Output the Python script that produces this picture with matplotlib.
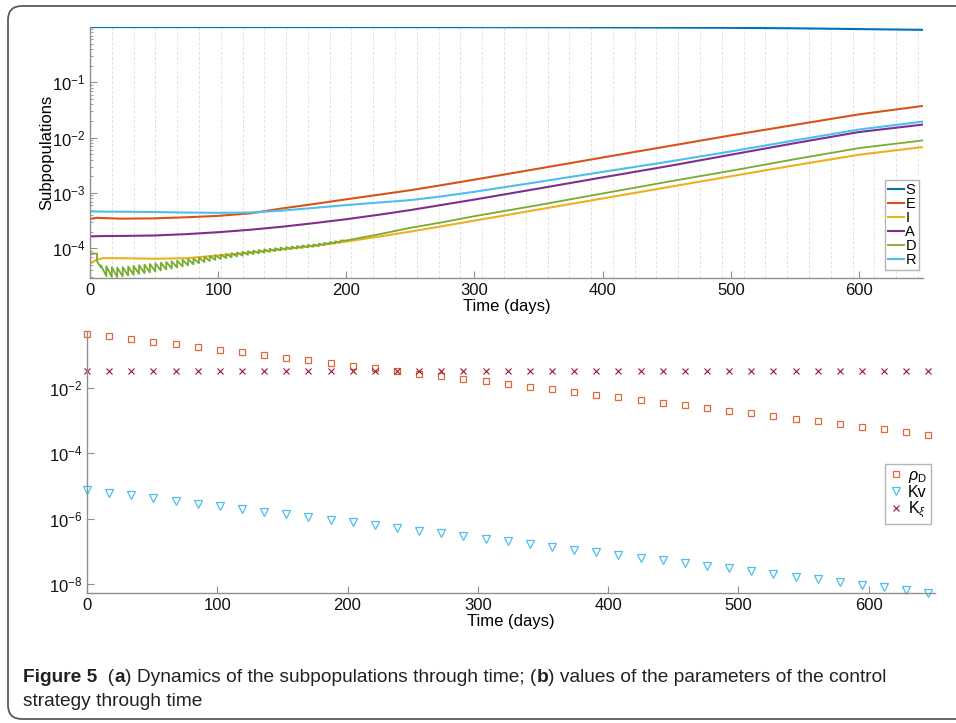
import numpy as np
import matplotlib
matplotlib.use("Agg")
import matplotlib.pyplot as plt
from matplotlib.patches import FancyBboxPatch
from matplotlib.ticker import NullLocator, LogLocator

plt.rcParams['font.family'] = ['Liberation Sans', 'DejaVu Sans']
plt.rcParams['mathtext.fontset'] = 'custom'
plt.rcParams['mathtext.rm'] = 'Liberation Sans'
plt.rcParams['mathtext.it'] = 'Liberation Sans:italic'
plt.rcParams['axes.unicode_minus'] = False

# ---- (a) subpopulations ----
t_days = [0, 5, 10, 25, 50, 75, 100, 125, 150, 175, 200, 225, 250, 275, 300,
          350, 400, 450, 500, 550, 600, 650]
S = [0.995, 0.995, 0.995, 0.995, 0.995, 0.995, 0.995, 0.995, 0.995, 0.994,
     0.994, 0.994, 0.993, 0.992, 0.991, 0.988, 0.983, 0.975, 0.964, 0.945,
     0.915, 0.887]
E = [3.39e-4, 3.55e-4, 3.51e-4, 3.43e-4, 3.47e-4, 3.63e-4, 3.85e-4, 4.27e-4,
     5.25e-4, 6.31e-4, 7.67e-4, 9.25e-4, 1.12e-3, 1.39e-3, 1.74e-3, 2.75e-3,
     4.37e-3, 6.92e-3, 1.096e-2, 1.70e-2, 2.63e-2, 3.74e-2]
I = [5.25e-5, 6.17e-5, 6.61e-5, 6.61e-5, 6.46e-5, 6.61e-5, 7.41e-5, 8.32e-5,
     9.55e-5, 1.10e-4, 1.32e-4, 1.62e-4, 2.00e-4, 2.51e-4, 3.16e-4, 5.01e-4,
     7.94e-4, 1.26e-3, 2.00e-3, 3.16e-3, 4.90e-3, 6.76e-3]
A = [1.64e-4, 1.65e-4, 1.66e-4, 1.67e-4, 1.70e-4, 1.80e-4, 1.95e-4, 2.16e-4,
     2.45e-4, 2.85e-4, 3.35e-4, 4.02e-4, 4.90e-4, 6.10e-4, 7.59e-4, 1.20e-3,
     1.91e-3, 3.02e-3, 4.90e-3, 7.94e-3, 1.26e-2, 1.72e-2]
R = [4.65e-4, 4.62e-4, 4.60e-4, 4.57e-4, 4.52e-4, 4.42e-4, 4.37e-4, 4.42e-4,
     4.79e-4, 5.37e-4, 6.03e-4, 6.70e-4, 7.41e-4, 8.70e-4, 1.05e-3, 1.58e-3,
     2.40e-3, 3.63e-3, 5.62e-3, 8.91e-3, 1.40e-2, 1.95e-2]

# D: start, impulsive teeth (value before / after each jump), smooth tail
d_head_t = [0, 5.5, 5.5]
d_head = [8.0e-5, 8.0e-5, 5.8e-5]
pulse_t = [8.5, 12.75, 17, 21.25, 25.5, 29.75, 34, 38.25, 42.5, 46.75, 51,
           55.25, 59.5, 63.75, 68, 72.25, 76.5, 80.75, 85, 89.25, 93.5, 97.75,
           102, 106.25, 110.5, 114.75, 119, 123.25, 127.5, 131.75, 136, 140.25,
           144.5, 148.75, 153, 157.25, 161.5, 165.75, 170, 174.25, 178.5,
           182.75, 187, 191.25, 195.5]
d_before = [4.50, 3.14, 3.04, 3.01, 3.11, 3.21, 3.32, 3.43, 3.55, 3.66, 3.80,
            3.96, 4.13, 4.31, 4.49, 4.68, 4.89, 5.12, 5.36, 5.62, 5.88, 6.16,
            6.41, 6.63, 6.87, 7.11, 7.35, 7.61, 7.86, 8.10, 8.35, 8.60, 8.87,
            9.14, 9.39, 9.63, 9.88, 10.14, 10.40, 10.67, 11.05, 11.47, 11.90,
            12.35, 12.82]
d_after = [4.90, 4.72, 4.54, 4.46, 4.57, 4.69, 4.82, 4.94, 5.07, 5.21, 5.35,
           5.50, 5.66, 5.82, 5.99, 6.16, 6.35, 6.55, 6.77, 6.99, 7.22, 7.46,
           7.69, 7.91, 8.14, 8.37, 8.61, 8.86, 9.09, 9.32, 9.55, 9.79, 10.03,
           10.28, 10.51, 10.74, 10.97, 11.21, 11.46, 11.70, 12.07, 12.48,
           12.91, 13.34, 13.80]
d_tail_t = [200, 225, 250, 275, 300, 350, 400, 450, 500, 550, 600, 650]
d_tail = [1.38e-4, 1.78e-4, 2.34e-4, 2.95e-4, 3.80e-4, 6.03e-4, 9.77e-4,
          1.58e-3, 2.51e-3, 4.07e-3, 6.46e-3, 8.91e-3]

# ---- (b) control parameters ----
control_days = [0, 17, 34, 51, 68, 85, 102, 119, 136, 153, 170, 187, 204, 221,
                238, 255, 272, 289, 306, 323, 340, 357, 374, 391, 408, 425,
                442, 459, 476, 493, 510, 527, 544, 561, 578, 595, 612, 629, 646]
rho_D = [0.447, 0.371, 0.307, 0.255, 0.211, 0.175, 0.145, 0.120, 0.100,
         0.0828, 0.0687, 0.0570, 0.0472, 0.0392, 0.0325, 0.0269, 0.0223,
         0.0185, 0.0154, 0.0127, 0.0106, 0.00877, 0.00727, 0.00603, 0.00500,
         0.00414, 0.00344, 0.00285, 0.00236, 0.00196, 0.00163, 0.00135,
         0.00112, 9.27e-4, 7.69e-4, 6.37e-4, 5.28e-4, 4.38e-4, 3.63e-4]
K_v = [7.41e-6, 6.13e-6, 5.07e-6, 4.19e-6, 3.47e-6, 2.86e-6, 2.37e-6, 1.96e-6,
       1.62e-6, 1.34e-6, 1.11e-6, 9.15e-7, 7.57e-7, 6.26e-7, 5.17e-7, 4.28e-7,
       3.54e-7, 2.92e-7, 2.42e-7, 2.00e-7, 1.65e-7, 1.37e-7, 1.13e-7, 9.34e-8,
       7.72e-8, 6.38e-8, 5.28e-8, 4.36e-8, 3.61e-8, 2.98e-8, 2.47e-8, 2.04e-8,
       1.69e-8, 1.39e-8, 1.15e-8, 9.53e-9, 7.88e-9, 6.51e-9, 5.38e-9]
K_xi = [0.0316] * len(control_days)

colors = {'S': '#0072BD', 'E': '#D95319', 'I': '#EDB120', 'A': '#7E2F8E',
          'D': '#77AC30', 'R': '#4DBEEE'}
axis_gray = '#8f8f8f'

fig = plt.figure(figsize=(9.56, 7.23), dpi=100)

# panel frame
bg = fig.add_axes([0, 0, 1, 1], zorder=-5)
bg.set_xlim(0, 956)
bg.set_ylim(723, 0)
bg.axis('off')
bg.add_patch(FancyBboxPatch((8, 6), 990, 713,
                            boxstyle='round,pad=0,rounding_size=14',
                            fc='white', ec='#5a5a5a', lw=1.3))


def style_axes(ax):
    for side in ['top', 'right']:
        ax.spines[side].set_visible(False)
    for side in ['left', 'bottom']:
        ax.spines[side].set_color(axis_gray)
        ax.spines[side].set_linewidth(1.0)
    ax.tick_params(which='both', direction='in', color=axis_gray,
                   labelsize=12, labelcolor='#111111')
    ax.tick_params(which='major', length=5)
    ax.tick_params(which='minor', length=2.5)
    ax.patch.set_alpha(0)


# ---- top panel ----
ax1 = fig.add_axes([90 / 956, 1 - 278 / 723, 833 / 956, 251 / 723])
for k, d in enumerate(control_days[1:]):
    c = '#f4d6d9' if k % 2 == 0 else '#e4e4e4'
    ax1.axvline(d, color=c, lw=0.7, ls=(0, (3, 2)), zorder=0)

d_t = list(d_head_t)
d_v = list(d_head)
for tk, lo, hi in zip(pulse_t, d_before, d_after):
    d_t += [tk, tk]
    d_v += [lo * 1e-5, hi * 1e-5]
d_t += d_tail_t
d_v += d_tail

lw = 1.5
ax1.plot(t_days, S, color=colors['S'], lw=lw, label='S')
ax1.plot(t_days, E, color=colors['E'], lw=lw, label='E')
ax1.plot(t_days, I, color=colors['I'], lw=lw, label='I')
ax1.plot(t_days, A, color=colors['A'], lw=lw, label='A')
ax1.plot(d_t, d_v, color=colors['D'], lw=1.3, label='D')
ax1.plot(t_days, R, color=colors['R'], lw=lw, label='R')

ax1.set_yscale('log')
ax1.set_xlim(0, 650)
ax1.set_ylim(2.9e-5, 0.998)
ax1.set_xticks([0, 100, 200, 300, 400, 500, 600])
ax1.yaxis.set_major_locator(LogLocator(base=10))
style_axes(ax1)
ax1.set_xlabel('Time (days)', fontsize=12, labelpad=1)
ax1.set_ylabel('Subpopulations', fontsize=12, labelpad=-2)

leg1 = ax1.legend(loc='upper right', bbox_to_anchor=(919 / 956, 1 - 180 / 723),
                  bbox_transform=fig.transFigure, fontsize=10.5,
                  handlelength=1.1, handletextpad=0.1, labelspacing=0.0,
                  borderpad=0.2, borderaxespad=0, fancybox=False,
                  edgecolor='#b5b5b5', framealpha=1)
leg1.get_frame().set_linewidth(1.0)

# ---- bottom panel ----
ax2 = fig.add_axes([87 / 956, 1 - 593 / 723, 848 / 956, 261 / 723])
ax2.plot(control_days, rho_D, ls='none', marker='s', ms=5, mfc='none',
         mec='#DE6A3A', mew=0.9, label=r'$\rho_{\mathrm{D}}$', clip_on=False)
ax2.plot(control_days, K_v, ls='none', marker='v', ms=6, mfc='none',
         mec='#4DBEEE', mew=0.9, label='Kv', clip_on=False)
ax2.plot(control_days, K_xi, ls='none', marker='x', ms=4.5, mec='#A2142F',
         mew=0.8, label=r'K$_\xi$', clip_on=False)
ax2.set_yscale('log')
ax2.set_xlim(0, 651)
ax2.set_ylim(5.3e-9, 0.5)
ax2.set_xticks([0, 100, 200, 300, 400, 500, 600])
ax2.set_yticks([1e-8, 1e-6, 1e-4, 1e-2])
ax2.yaxis.set_minor_locator(NullLocator())
style_axes(ax2)
ax2.set_xlabel('Time (days)', fontsize=12, labelpad=1)

leg2 = ax2.legend(loc='upper right', bbox_to_anchor=(931 / 956, 1 - 464 / 723),
                  bbox_transform=fig.transFigure, fontsize=11.5,
                  handlelength=0.9, handletextpad=0.3, labelspacing=0.0,
                  borderpad=0.25, borderaxespad=0, fancybox=False,
                  edgecolor='#b5b5b5', framealpha=1, markerscale=0.85)
leg2.get_frame().set_linewidth(1.0)

# ---- caption ----
cap_font = ['Liberation Sans Narrow', 'Liberation Sans', 'DejaVu Sans']
cap_size = 13.8
renderer = fig.canvas.get_renderer()


def caption_line(pieces, x, y):
    for text, weight in pieces:
        t = bg.text(x, y, text, fontsize=cap_size, family=cap_font,
                    fontweight=weight, color='#222222', va='baseline')
        x += t.get_window_extent(renderer).width


caption_line([('Figure 5', 'bold'), ('  (', 'normal'), ('a', 'bold'),
              (') Dynamics of the subpopulations through time; (', 'normal'),
              ('b', 'bold'),
              (') values of the parameters of the control', 'normal')],
             23, 682)
caption_line([('strategy through time', 'normal')], 23, 706)

fig.savefig('out.png', dpi=100)
